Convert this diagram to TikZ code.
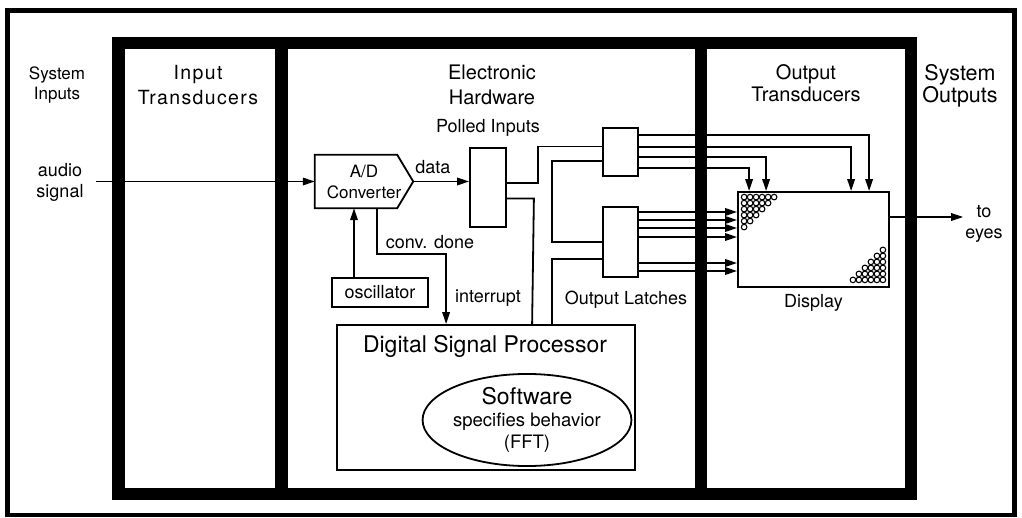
\documentclass[tikz,border=0pt]{standalone}
\usepackage{fontspec}
\setmainfont{TeX Gyre Heros}
\usetikzlibrary{shapes.geometric, arrows.meta, positioning, calc}

\begin{document}
\begin{tikzpicture}[x=1pt, y=-1pt,
    box/.style={rectangle, draw, line width=1.8pt, inner sep=0pt},
    wire/.style={line width=1.8pt},
    arrow/.style={wire, -{Triangle[length=12pt, width=7.5pt]}},
    lbl/.style={font=\fontsize{18}{21}\selectfont, align=center, inner sep=2pt},
    title/.style={font=\fontsize{20}{24.5}\selectfont, align=center, inner sep=0pt},
    band/.style={line width=12.5pt},
    pixel/.style={line width=1.1pt},
]
\useasboundingbox (0,0) rectangle (1022,518);

% frames and stage bands
\draw[line width=4.5pt] (7.5,10.5) rectangle (1014.5,515);
\draw[band] (118.25,43.25) rectangle (910.75,493.75);
\draw[band] (281.5,43.25) -- (281.5,493.75);
\draw[band] (701,43.25) -- (701,493.75);

% stage titles
\node[lbl, font=\fontsize{17}{20}\selectfont] (sysin) at (57,85) {System\\Inputs};
\node[title, font=\fontsize{19.5}{25}\selectfont\addfontfeature{LetterSpace=7}] (intrans) at (198,85) {Input\\Transducers};
\node[title] (hw) at (492,85) {Electronic\\Hardware};
\node[title, font=\fontsize{20}{22.5}\selectfont] (outtrans) at (806,83) {Output\\Transducers};
\node[title, font=\fontsize{21.5}{20}\selectfont] (sysout) at (960,86) {System\\Outputs};

% blocks
\node[lbl] (audio) at (60,182) {audio\\signal};
\coordinate (audioin) at (96,181.5);
\node[minimum width=98pt, minimum height=53pt, inner sep=0pt, align=center, font=\fontsize{17}{21}\selectfont] (adc) at (364,181.5) {A/D\\Converter};
\draw[line width=1.8pt] (adc.north west) -- ($(adc.north east)+(-16,0)$) -- (adc.east) -- ($(adc.south east)+(-16,0)$) -- (adc.south west) -- cycle;

\node[box, minimum width=36pt, minimum height=79pt] (polled) at (488,187.5) {};
\node[lbl, above=8pt of polled] (polledlbl) {Polled Inputs};

\node[box, minimum width=35pt, minimum height=48pt] (latch1) at (620.5,152) {};
\node[box, minimum width=35pt, minimum height=70pt] (latch2) at (620.5,242) {};
\node[lbl] (latchlbl) at (626,300) {Output Latches};

\node[box, minimum width=151pt, minimum height=95pt] (disp) at (813.5,239.5) {};
\node[lbl, below=4pt of disp] (displbl) {Display};
\node[lbl] (eyes) at (984,224) {to\\eyes};

\node[box, minimum width=96pt, minimum height=29pt, font=\fontsize{18}{21}\selectfont] (osc) at (380,292.5) {oscillator};

\node[box, minimum width=298pt, minimum height=145pt] (dsp) at (486,397.5) {};
\node[font=\fontsize{23}{27}\selectfont] (dsplbl) at (485,346) {Digital Signal Processor};
\node[draw, ellipse, line width=1.8pt, minimum width=194pt, minimum height=74pt, inner sep=0pt, align=center, font=\fontsize{18.5}{22}\selectfont] (sw) at (527,420) {{\fontsize{23}{24}\selectfont Software}\\specifies behavior\\(FFT)};

\node[lbl] (convlbl) at (430,242) {conv. done};
\node[lbl] (intlbl) at (488,298) {interrupt};

% connectors
\draw[arrow] (audioin) -- (adc.west);
\draw[arrow] (adc.east) -- node[lbl, above=5pt, pos=0.35] (datalbl) {data} (adc.east -| polled.west);
\draw[arrow] ($(osc.north)+(-26,0)$) -- ($(adc.south)+(-10,0)$);
\draw[arrow] ($(adc.south)+(13,0)$) -- ++(0,46) -| ($(dsp.north west)+(110,0)$);
\draw[wire] ($(polled.east)+(0,-4.5)$) -- ++(31,0) |- ($(latch1.west)+(0,-5.5)$);
\draw[wire] ($(polled.east)+(0,11)$) -- ++(27,0) -- ($(dsp.north west)+(196,0)$);
\draw[wire] ($(latch1.west)+(0,9)$) -- ++(-50,0) |- (latch2.west);
\draw[wire] ($(dsp.north west)+(216,0)$) |- ($(latch2.west)+(0,17)$);
\foreach \dy/\dx in {-17/132, -5/114, 5/29, 16/12}
  \draw[arrow] ($(latch1.east)+(0,\dy)$) -| ($(disp.north west)+(\dx,0)$);
\foreach \dy in {-30,-22,-14,-5,21,29}
  \draw[arrow] ($(latch2.east)+(0,\dy)$) coordinate (lo) -- (lo -| disp.west);
\draw[arrow] ($(disp.east)+(0,-22.5)$) coordinate (dout) -- (dout -| eyes.west);

% display pixels
\foreach \r in {0,...,5}{
  \pgfmathtruncatemacro{\ncirc}{5-\r}
  \foreach \c in {0,...,\ncirc}{
    \draw[pixel] ($(disp.north west)+(7+6*\c,6+6*\r)$) circle[radius=2.8];
    \draw[pixel] ($(disp.south east)+(-7-6*\c,-8-6*\r)$) circle[radius=2.8];
  }
}

\end{tikzpicture}
\end{document}
